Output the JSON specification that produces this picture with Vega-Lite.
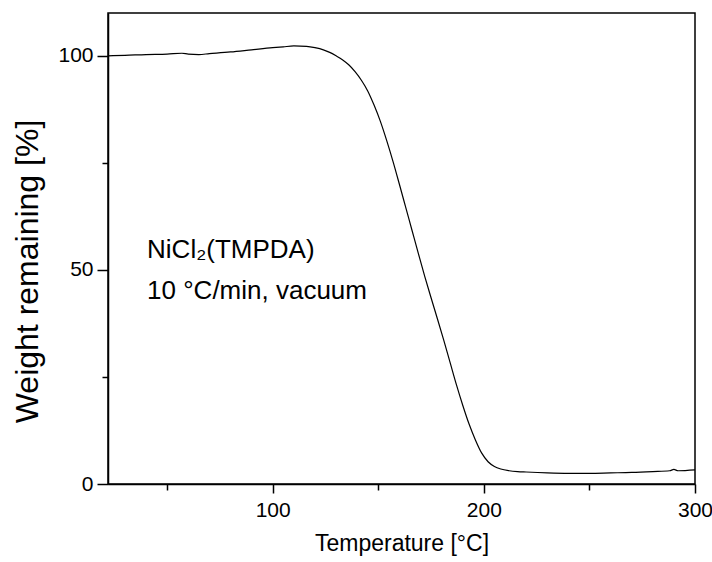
{
  "$schema": "https://vega.github.io/schema/vega-lite/v6.json",
  "width": 587,
  "height": 471,
  "autosize": "none",
  "padding": {"left": 108, "top": 13, "right": 17, "bottom": 78},
  "background": "white",
  "config": {
    "view": {"stroke": "#000", "strokeWidth": 1.5},
    "font": "Liberation Sans",
    "axis": {
      "domainColor": "#000",
      "domainWidth": 1.5,
      "tickColor": "#000",
      "tickWidth": 1.5,
      "grid": false,
      "labelFont": "Liberation Sans",
      "labelFontSize": 21,
      "labelColor": "#000",
      "titleFont": "Liberation Sans",
      "titleFontSize": 23,
      "titleFontWeight": "normal",
      "titleColor": "#000"
    }
  },
  "datasets": {
    "tga": [
      {"T": 22, "W": 100.0}, {"T": 30, "W": 100.1}, {"T": 40, "W": 100.3},
      {"T": 50, "W": 100.4}, {"T": 57, "W": 100.6}, {"T": 60, "W": 100.4},
      {"T": 65, "W": 100.3}, {"T": 70, "W": 100.5}, {"T": 80, "W": 100.9},
      {"T": 90, "W": 101.4}, {"T": 100, "W": 101.9}, {"T": 105, "W": 102.1},
      {"T": 110, "W": 102.3}, {"T": 116, "W": 102.2}, {"T": 120, "W": 101.9},
      {"T": 124, "W": 101.4}, {"T": 127, "W": 100.8}, {"T": 130, "W": 100.0},
      {"T": 133, "W": 99.1}, {"T": 136, "W": 97.9}, {"T": 139, "W": 96.3},
      {"T": 142, "W": 94.3}, {"T": 145, "W": 91.8}, {"T": 148, "W": 88.5},
      {"T": 151, "W": 84.7}, {"T": 154, "W": 80.2}, {"T": 157, "W": 75.3},
      {"T": 160, "W": 70.0}, {"T": 163, "W": 64.6}, {"T": 166, "W": 59.2},
      {"T": 169, "W": 53.8}, {"T": 172, "W": 48.5}, {"T": 175, "W": 43.5},
      {"T": 178, "W": 38.6}, {"T": 181, "W": 33.6}, {"T": 184, "W": 28.4},
      {"T": 187, "W": 23.2}, {"T": 190, "W": 18.4}, {"T": 193, "W": 14.0},
      {"T": 196, "W": 10.3}, {"T": 199, "W": 7.2}, {"T": 202, "W": 5.2},
      {"T": 205, "W": 4.1}, {"T": 208, "W": 3.5}, {"T": 212, "W": 3.1},
      {"T": 216, "W": 2.9}, {"T": 220, "W": 2.8}, {"T": 230, "W": 2.6},
      {"T": 240, "W": 2.5}, {"T": 250, "W": 2.5}, {"T": 260, "W": 2.6},
      {"T": 270, "W": 2.7}, {"T": 280, "W": 2.9}, {"T": 288, "W": 3.1},
      {"T": 290, "W": 3.4}, {"T": 292, "W": 3.1}, {"T": 300, "W": 3.3}
    ]
  },
  "layer": [
    {
      "data": {"name": "tga"},
      "mark": {"type": "line", "color": "#000", "strokeWidth": 1.2, "interpolate": "monotone", "clip": true},
      "encoding": {
        "x": {
          "field": "T", "type": "quantitative",
          "scale": {"domain": [22, 300], "nice": false, "zero": false},
          "axis": {
            "title": "Temperature [°C]",
            "values": [50, 100, 150, 200, 250, 300],
            "labelExpr": "datum.value % 100 === 0 ? datum.label : ''",
            "tickSize": {"condition": {"test": "datum.value % 100 === 0", "value": 9}, "value": 6},
            "labelPadding": 6,
            "titlePadding": 12,
            "labelFlush": false,
            "labelOverlap": false
          }
        },
        "y": {
          "field": "W", "type": "quantitative",
          "scale": {"domain": [0, 110], "nice": false},
          "axis": {
            "title": "Weight remaining [%]",
            "titleFontSize": 32,
            "titleX": -64,
            "titleY": 258,
            "titleAlign": "center",
            "titleBaseline": "bottom",
            "titleAngle": -90,
            "values": [0, 25, 50, 75, 100],
            "labelExpr": "datum.value % 50 === 0 ? datum.label : ''",
            "tickSize": {"condition": {"test": "datum.value % 50 === 0", "value": 11}, "value": 6},
            "labelPadding": 4,
            "labelFlush": false,
            "labelOverlap": false
          }
        }
      }
    },
    {
      "data": {"values": [{"note": "annotation"}]},
      "mark": {
        "type": "text",
        "text": ["NiCl₂(TMPDA)", "10 °C/min, vacuum"],
        "align": "left",
        "baseline": "middle",
        "fontSize": 26,
        "lineHeight": 41,
        "color": "#000",
        "font": "Liberation Sans"
      },
      "encoding": {
        "x": {"datum": 40.5, "type": "quantitative"},
        "y": {"datum": 54.7, "type": "quantitative"}
      }
    }
  ]
}
